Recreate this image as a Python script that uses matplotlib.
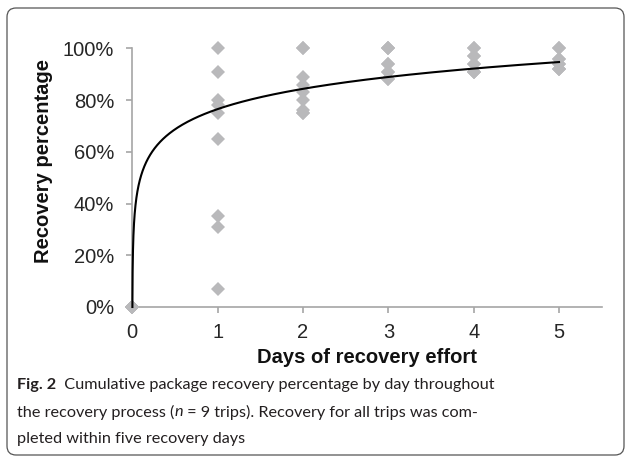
import numpy as np
import matplotlib
matplotlib.use("Agg")
import matplotlib.pyplot as plt
from matplotlib.patches import FancyBboxPatch
from matplotlib.ticker import PercentFormatter

# ---- data ----
days = [0, 1, 2, 3, 4, 5]
recovery_day0 = [0, 0, 0, 0, 0, 0, 0, 0, 0]
recovery_day1 = [100, 91, 80, 78, 75, 65, 35, 31, 7]
recovery_day2 = [100, 100, 89, 86, 83, 80, 76, 75, 75]
recovery_day3 = [100, 100, 100, 94, 94, 91, 91, 88, 88]
recovery_day4 = [100, 100, 97, 97, 94, 94, 91, 91, 91]
recovery_day5 = [100, 100, 96, 96, 94, 94, 92, 92, 92]
recovery_by_day = [recovery_day0, recovery_day1, recovery_day2,
                   recovery_day3, recovery_day4, recovery_day5]
# logarithmic trend line y = a*ln(x) + b (percent)
trend_a = 11.3
trend_b = 76.5
y_ticks = [0, 20, 40, 60, 80, 100]
x_ticks = [0, 1, 2, 3, 4, 5]

W, H = 626, 463
fig = plt.figure(figsize=(W / 100, H / 100), dpi=100)

def fx(px):
    return px / W

def fy(py):
    return 1 - py / H

# frame
frame = FancyBboxPatch((7 / 100, (H - 455) / 100), (624 - 7) / 100, (455 - 8) / 100,
                       boxstyle="round,pad=0,rounding_size=0.09",
                       transform=fig.dpi_scale_trans, fill=False,
                       edgecolor="#555555", linewidth=0.9)
fig.patches.append(frame)

ax_left, ax_right = 132.3, 601.7
ax_top, ax_bottom = 48.3, 307.0
ax = fig.add_axes([fx(ax_left), fy(ax_bottom), fx(ax_right) - fx(ax_left),
                   fy(ax_top) - fy(ax_bottom)])
ax.set_xlim(0, 5.5)
ax.set_ylim(0, 100)

grey = "#b9b9bb"
for d, vals in zip(days, recovery_by_day):
    ax.plot([d] * len(vals), vals, linestyle="none", marker="D",
            markersize=7.6, color=grey, markeredgewidth=0, clip_on=False, zorder=3)

x0 = np.exp(-trend_b / trend_a)
xs = np.geomspace(x0, 5, 600)
ax.plot(xs, trend_a * np.log(xs) + trend_b, color="black", linewidth=1.5, zorder=4,
        clip_on=False)

for s in ["top", "right"]:
    ax.spines[s].set_visible(False)
for s in ["left", "bottom"]:
    ax.spines[s].set_color("#a6a6a6")
    ax.spines[s].set_linewidth(1.2)

ax.set_xticks(x_ticks)
ax.set_yticks(y_ticks)
ax.yaxis.set_major_formatter(PercentFormatter(xmax=100, decimals=0))
ax.tick_params(axis="both", color="#a6a6a6", width=1.2, length=4,
               labelsize=14.5, labelcolor="#262626")
ax.tick_params(axis="x", pad=7.5)
ax.tick_params(axis="y", pad=9)
for lab in ax.get_xticklabels() + ax.get_yticklabels():
    lab.set_family("Liberation Sans")

ax.set_xlabel("Days of recovery effort", fontsize=14.5, fontweight="bold",
              family="Liberation Sans", color="#111111", labelpad=4)
ax.set_ylabel("Recovery percentage", fontsize=14.5, fontweight="bold",
              family="Liberation Sans", color="#111111", va="center")
ax.yaxis.set_label_coords((44 - ax_left) / (ax_right - ax_left),
                          (ax_bottom - 161) / (ax_bottom - ax_top))

# caption
cap_font = "Lato"
cap_size = 11.7
cap_color = "#231f20"
renderer = fig.canvas.get_renderer()

def put_segments(x_px, y_px, segments):
    x = x_px
    for txt, kw in segments:
        t = fig.text(fx(x), fy(y_px), txt, fontsize=cap_size, family=cap_font,
                     color=cap_color, va="center", ha="left", **kw)
        bb = t.get_window_extent(renderer=renderer)
        x += bb.width

put_segments(17, 385, [("Fig. 2", {"fontweight": "bold"}),
                       ("  Cumulative package recovery percentage by day throughout", {})])
put_segments(17, 412, [("the recovery process (", {}), ("n", {"style": "italic"}),
                       (" = 9 trips). Recovery for all trips was com-", {})])
put_segments(17, 439, [("pleted within five recovery days", {})])

fig.savefig("out.png", dpi=100)
